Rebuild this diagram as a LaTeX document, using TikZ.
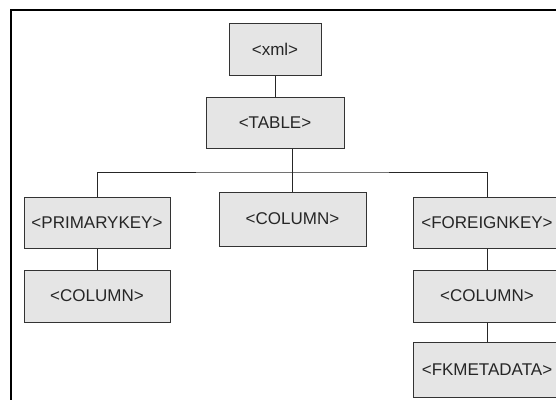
\documentclass[tikz,border=0pt]{standalone}
\usepackage{fontspec}
\setmainfont{Liberation Sans}
\begin{document}
\begin{tikzpicture}[x=1pt,y=1pt,
  tagbox/.style={draw=black!80, fill=black!10, line width=1pt, inner sep=0pt,
    font=\fontsize{17}{20}\selectfont, text=black!85},
  link/.style={draw=black!85, line width=1pt}]
\useasboundingbox (0,0) rectangle (556,-399);
\draw[line width=1.6pt] (11,-400) -- (11,-10) -- (560,-10);
\node[tagbox, minimum width=92pt, minimum height=52pt] (xml) at (275,-49) {<xml>};
\node[tagbox, minimum width=138pt, minimum height=51pt] (table) at (275,-122.5) {<TABLE>};
\node[tagbox, minimum width=146pt, minimum height=51pt] (pk) at (97,-222.5) {<PRIMARYKEY>};
\node[tagbox, minimum width=146pt, minimum height=52pt] (pkcol) at (97,-296) {<COLUMN>};
\node[tagbox, minimum width=147pt, minimum height=54pt] (midcol) at (292.5,-219) {<COLUMN>};
\node[tagbox, minimum width=148pt, minimum height=51pt] (fk) at (487,-222.5) {<FOREIGNKEY>};
\node[tagbox, minimum width=148pt, minimum height=52pt] (fkcol) at (487,-296) {<COLUMN>};
\node[tagbox, minimum width=148pt, minimum height=55pt] (fkmeta) at (487,-369.5) {<FKMETADATA>};
\coordinate (bus) at (292.5,-172);
\draw[link] (xml.south) -- (table.north);
\draw[link] (midcol.north |- table.south) -- (midcol.north);
\draw[link] (pk.north) |- (bus) -| (fk.north);
\draw[link] (pk.south) -- (pkcol.north);
\draw[link] (fk.south) -- (fkcol.north);
\draw[link] (fkcol.south) -- (fkmeta.north);
\end{tikzpicture}
\end{document}
